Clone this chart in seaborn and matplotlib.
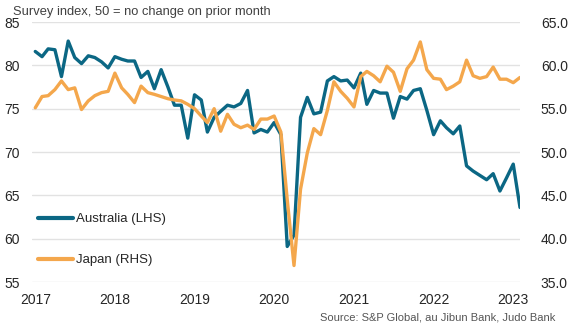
import numpy as np
import pandas as pd
import matplotlib
matplotlib.use("Agg")
import matplotlib.pyplot as plt
import seaborn as sns
from matplotlib.lines import Line2D

# ---- data (monthly, Jan 2017 - Feb 2023) ----
start_month = "2017-01-01"
australia = [81.6, 81.0, 81.9, 81.8, 78.7, 82.8, 80.9, 80.2, 81.1, 80.9, 80.4, 79.7,
             81.0, 80.7, 80.5, 80.5, 78.6, 79.3, 77.3, 79.5, 77.5, 75.4, 75.4, 71.6,
             76.6, 76.0, 72.3, 74.0, 74.7, 75.4, 75.2, 75.6, 77.1, 72.2, 72.6, 72.3,
             73.4, 72.0, 59.1, 60.4, 74.0, 76.3, 74.4, 74.6, 78.2, 78.7, 78.2, 78.3,
             77.4, 79.1, 75.5, 77.1, 76.8, 76.8, 73.9, 76.4, 76.1, 77.1, 77.3, 74.8,
             72.0, 73.6, 72.8, 72.1, 73.0, 68.4, 67.8, 67.3, 66.8, 67.5, 65.5, 67.0,
             68.6, 63.6]
japan = [55.1, 56.4, 56.5, 57.2, 58.2, 57.2, 57.4, 54.9, 55.9, 56.5, 56.85, 57.0,
         59.1, 57.4, 56.65, 55.7, 57.6, 56.85, 56.65, 56.4, 56.15, 56.0, 55.9, 55.5,
         55.0, 54.15, 53.4, 55.0, 52.4, 54.35, 53.2, 52.8, 53.1, 52.6, 53.8, 53.8,
         54.15, 52.3, 44.5, 36.9, 45.7, 49.9, 52.7, 52.0, 54.8, 58.1, 57.0, 56.2,
         55.2, 58.7, 59.3, 58.8, 58.1, 59.9, 59.2, 57.0, 59.6, 60.6, 62.7, 59.5,
         58.5, 58.4, 57.2, 57.6, 58.1, 60.6, 58.8, 58.5, 58.7, 59.8, 58.4, 58.4,
         58.0, 58.6]
year_labels = ["2017", "2018", "2019", "2020", "2021", "2022", "2023"]
left_ticks = [55, 60, 65, 70, 75, 80, 85]
right_ticks = [35, 40, 45, 50, 55, 60, 65]
series_names = ["Australia (LHS)", "Japan (RHS)"]
subtitle = "Survey index, 50 = no change on prior month"
source = "Source: S&P Global, au Jibun Bank, Judo Bank"

dates = pd.date_range(start_month, periods=len(australia), freq="MS")
df = pd.DataFrame({"date": dates, "Australia": australia, "Japan": japan})

teal = "#0b6784"
orange = "#f4a74c"
grid_c = "#e2e2e2"
txt_c = "#262626"

sns.set_theme(style="white")
plt.rcParams["font.family"] = ["Liberation Sans", "DejaVu Sans"]

fig = plt.figure(figsize=(5.84, 3.31), dpi=100)
ax = fig.add_axes([32 / 584, 1 - 282 / 331, (520 - 32) / 584, 260 / 331])
ax2 = ax.twinx()

sns.lineplot(data=df, x="date", y="Australia", ax=ax, color=teal, lw=2.4, legend=False)
sns.lineplot(data=df, x="date", y="Japan", ax=ax2, color=orange, lw=2.4, legend=False)

ax.set_ylim(55, 85)
ax2.set_ylim(35, 65)
ax.set_xlim(pd.Timestamp("2016-12-17"), dates[-1])

ax.set_yticks(left_ticks)
ax.set_yticklabels([str(v) for v in left_ticks])
ax2.set_yticks(right_ticks)
ax2.set_yticklabels([f"{v:.1f}" for v in right_ticks])

xt = [pd.Timestamp(f"{y}-01-01") for y in year_labels]
ax.set_xticks(xt)
ax.set_xticklabels(year_labels)

for a in (ax, ax2):
    a.set_xlabel("")
    a.set_ylabel("")
    for s in a.spines.values():
        s.set_visible(False)
    a.grid(False)

ax.yaxis.grid(True, color=grid_c, lw=1.0)
ax.set_axisbelow(True)
ax.tick_params(axis="y", length=0, pad=8.5, labelsize=10, labelcolor=txt_c)
ax.tick_params(axis="x", length=0, pad=8, labelsize=10, labelcolor=txt_c)
ax2.tick_params(axis="y", length=0, pad=15, labelsize=10, labelcolor=txt_c)

handles = [Line2D([], [], color=teal, lw=3), Line2D([], [], color=orange, lw=3)]
ax.legend(handles, series_names, loc="lower left", bbox_to_anchor=(0.012, 0.06),
          frameon=False, fontsize=9.5, handlelength=2.7, handletextpad=0.2,
          labelspacing=2.2, borderpad=0, borderaxespad=0, labelcolor=txt_c)

fig.text(13 / 584, 1 - 15 / 331, subtitle, fontsize=9.3, color="#404040",
         ha="left", va="baseline")
fig.text(555 / 584, 1 - 320 / 331, source, fontsize=8, color="#555555",
         ha="right", va="baseline")

fig.savefig("out.png", dpi=100)
